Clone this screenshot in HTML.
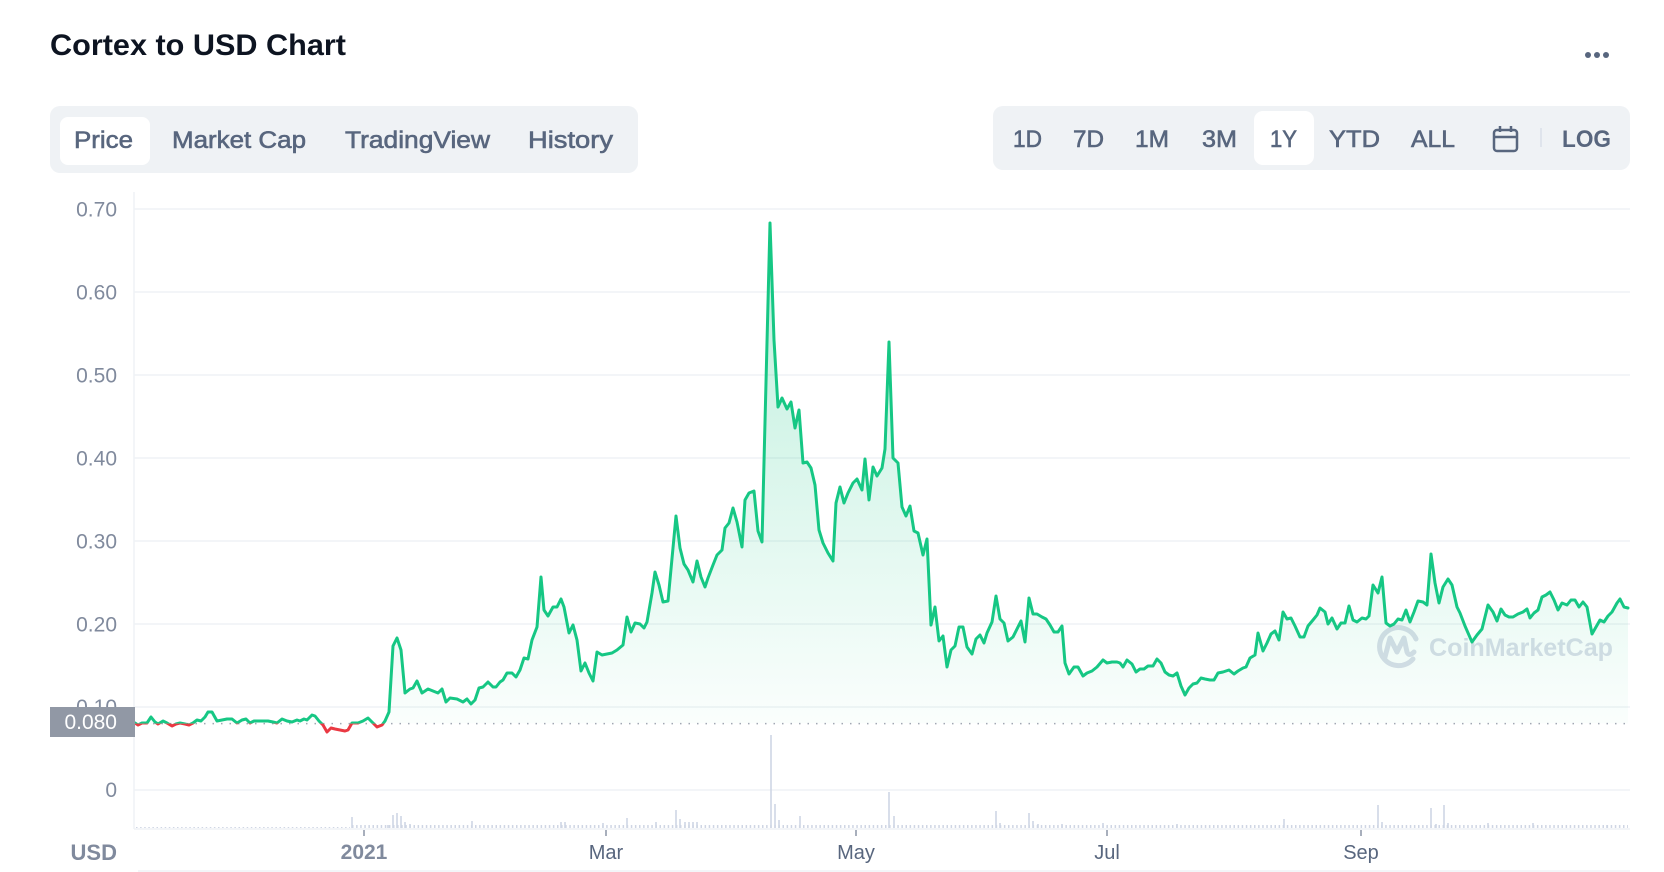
<!DOCTYPE html>
<html><head><meta charset="utf-8"><style>
html,body{margin:0;padding:0;background:#fff;width:1664px;height:872px;overflow:hidden}
svg{display:block;font-family:"Liberation Sans",Arial,sans-serif}
</style></head><body>
<svg width="1664" height="872" viewBox="0 0 1664 872" xmlns="http://www.w3.org/2000/svg">
<defs>
<linearGradient id="gf" x1="0" y1="209" x2="0" y2="724" gradientUnits="userSpaceOnUse">
<stop offset="0" stop-color="#16c784" stop-opacity="0.30"/>
<stop offset="1" stop-color="#16c784" stop-opacity="0.02"/>
</linearGradient>
<clipPath id="up"><rect x="0" y="0" width="1664" height="723.6"/></clipPath>
<clipPath id="dn"><rect x="0" y="723.6" width="1664" height="120"/></clipPath>
</defs>

<!-- Title -->
<text x="50" y="55" font-size="30" font-weight="700" fill="#0d1421" textLength="296" lengthAdjust="spacingAndGlyphs">Cortex to USD Chart</text>
<circle cx="1588" cy="55" r="3" fill="#58667e"/><circle cx="1597" cy="55" r="3" fill="#58667e"/><circle cx="1606" cy="55" r="3" fill="#58667e"/>

<!-- Left tabs -->
<rect x="50" y="106" width="588" height="67" rx="10" fill="#eff2f5"/>
<rect x="60" y="117" width="90" height="48" rx="8" fill="#fff"/>
<g font-size="24" font-weight="400" fill="#58667e" stroke="#58667e" stroke-width="0.6">
<text x="74" y="148" textLength="59" lengthAdjust="spacingAndGlyphs">Price</text>
<text x="172" y="148" textLength="134" lengthAdjust="spacingAndGlyphs">Market Cap</text>
<text x="345" y="148" textLength="145" lengthAdjust="spacingAndGlyphs">TradingView</text>
<text x="528" y="148" textLength="85" lengthAdjust="spacingAndGlyphs">History</text>
</g>

<!-- Right tabs -->
<rect x="993" y="106" width="637" height="64" rx="10" fill="#eff2f5"/>
<rect x="1254" y="111" width="60" height="54" rx="9" fill="#fff"/>
<g font-size="24" font-weight="400" fill="#58667e" stroke="#58667e" stroke-width="0.6">
<text x="1013" y="147" textLength="29" lengthAdjust="spacingAndGlyphs">1D</text>
<text x="1073" y="147" textLength="31" lengthAdjust="spacingAndGlyphs">7D</text>
<text x="1135" y="147" textLength="34" lengthAdjust="spacingAndGlyphs">1M</text>
<text x="1202" y="147" textLength="35" lengthAdjust="spacingAndGlyphs">3M</text>
<text x="1270" y="147" textLength="27" lengthAdjust="spacingAndGlyphs">1Y</text>
<text x="1329" y="147" textLength="51" lengthAdjust="spacingAndGlyphs">YTD</text>
<text x="1411" y="147" textLength="44" lengthAdjust="spacingAndGlyphs">ALL</text>
</g>
<text x="1562" y="147" font-size="24" font-weight="700" fill="#58667e" textLength="49" lengthAdjust="spacingAndGlyphs">LOG</text>
<g fill="none" stroke="#58667e" stroke-width="2.5">
<rect x="1494" y="130" width="23" height="21" rx="3"/>
<line x1="1494" y1="137" x2="1517" y2="137"/>
<line x1="1500" y1="126" x2="1500" y2="132"/>
<line x1="1511" y1="126" x2="1511" y2="132"/>
</g>
<line x1="1541" y1="128" x2="1541" y2="147" stroke="#cfd6e4" stroke-width="1"/>

<!-- Grid -->
<g stroke="#eff2f5" stroke-width="1.5">
<line x1="134" y1="209" x2="1630" y2="209"/>
<line x1="134" y1="292" x2="1630" y2="292"/>
<line x1="134" y1="375" x2="1630" y2="375"/>
<line x1="134" y1="458" x2="1630" y2="458"/>
<line x1="134" y1="541" x2="1630" y2="541"/>
<line x1="134" y1="624" x2="1630" y2="624"/>
<line x1="134" y1="707" x2="1630" y2="707"/>
<line x1="134" y1="790" x2="1630" y2="790"/>
<line x1="134" y1="192" x2="134" y2="829"/>
<line x1="134" y1="829" x2="1630" y2="829"/>
<line x1="138" y1="871" x2="1630" y2="871"/>
</g>

<!-- Y labels -->
<g font-size="21" fill="#808a9d" text-anchor="end">
<text x="117" y="216.5">0.70</text>
<text x="117" y="299.5">0.60</text>
<text x="117" y="382.5">0.50</text>
<text x="117" y="465.5">0.40</text>
<text x="117" y="548.5">0.30</text>
<text x="117" y="631.5">0.20</text>
<text x="117" y="714">0.10</text>
<text x="117" y="797">0</text>
</g>

<!-- Volume bars -->
<line x1="136" y1="827.5" x2="350" y2="827.5" stroke="#cfd6e4" stroke-width="1" stroke-dasharray="1.5 2.6"/>
<line x1="352" y1="826.5" x2="1628" y2="826.5" stroke="#cfd6e4" stroke-width="3" stroke-dasharray="1.5 2.6"/>
<path stroke="#cfd6e4" stroke-width="1.6" fill="none" d="M352 828V817M388 828V825M393 828V815M397 828V813M401 828V816M405 828V822M410 828V824M472 828V821M561 828V822M565 828V822M603 828V823M627 828V818M656 828V822M676 828V810M680 828V819M685 828V822M689 828V822M693 828V822M697 828V822M771 828V735M775 828V804M779 828V820M800 828V816M889 828V792M894 828V816M996 828V811M1000 828V823M1029 828V813M1033 828V821M1038 828V824M1062 828V824M1103 828V823M1177 828V824M1284 828V819M1378 828V805M1382 828V822M1431 828V808M1436 828V824M1444 828V805M1448 828V823M1488 828V823M1533 828V823M1607 828V825"/>

<!-- Watermark -->
<g opacity="0.85">
<path d="M1413 659 A19 19 0 1 1 1416 639" fill="none" stroke="#d3d8e4" stroke-width="5" stroke-linecap="round"/>
<path d="M1385 657 L1390 638 L1397 652 L1404 638 L1407 652 Q1409 657 1414 652" fill="none" stroke="#d3d8e4" stroke-width="5" stroke-linecap="round" stroke-linejoin="round"/>
<text x="1429" y="656" font-size="25" font-weight="700" fill="#d3d8e4" textLength="184" lengthAdjust="spacingAndGlyphs">CoinMarketCap</text>
</g>

<!-- Series -->
<g id="series">
<polygon clip-path="url(#up)" fill="url(#gf)" points="135,723.6 135,723 138,725 142,723 147,723 151,717 155,722 158,724 163,721 167,723 172,726 176,724 180,723 185,724 189,725 193,723 197,720 201,721 205,717 208,712 212,712 217,721 222,720 227,719 232,719 237,723 242,720 246,719 250,723 254,721 258,721 263,721 268,721 273,722 277,723 282,719 287,721 292,722 297,720 300,721 304,719 307,720 312,715 315,716 319,721 323,725 327,732 331,728 335,729 340,730 345,731 348,730 352,723 355,723 358,723 363,721 368,718 373,723 377,727 382,725 385,721 389,712 393,646 397,638 401,650 405,693 410,689 413,688 417,681 422,693 428,689 433,691 438,693 442,689 446,702 450,698 457,699 463,702 467,699 471,704 475,700 479,688 483,687 488,682 493,687 496,687 500,682 503,680 507,673 512,673 516,677 520,670 524,658 528,659 532,640 537,627 541,577 544,610 548,616 553,607 557,607 561,599 564,607 569,633 573,625 577,640 581,671 585,663 589,673 593,681 597,652 602,655 607,654 612,653 617,650 623,645 627,617 631,632 635,623 640,624 644,628 647,622 652,593 655,572 659,585 663,602 668,601 676,516 680,548 684,564 688,570 693,582 697,561 701,577 705,587 708,578 713,565 717,555 722,550 725,528 729,523 733,508 737,522 742,547 745,500 749,493 754,491 758,531 762,542 770,223 774,340 778,407 782,398 787,409 791,402 795,428 799,410 803,463 807,462 811,468 815,485 819,530 823,543 828,553 833,561 836,503 840,487 844,503 848,493 853,483 857,479 862,490 865,459 869,500 873,467 877,476 882,468 885,449 889,342 893,458 898,463 902,507 906,516 910,506 914,531 918,533 923,555 927,539 931,625 935,607 939,641 943,636 947,667 951,650 955,646 959,627 963,627 967,647 972,654 976,639 980,635 984,643 987,633 992,622 996,596 1000,619 1004,623 1008,641 1013,637 1021,621 1025,642 1029,598 1033,614 1037,614 1042,617 1046,619 1050,625 1054,632 1058,632 1062,626 1065,663 1069,674 1074,667 1078,667 1083,676 1087,673 1092,671 1097,667 1103,660 1107,663 1112,662 1117,662 1120,663 1123,667 1127,660 1132,664 1136,672 1140,669 1144,669 1148,666 1153,666 1157,659 1161,663 1165,672 1169,675 1173,676 1177,673 1181,686 1185,695 1189,688 1193,684 1197,683 1201,678 1205,679 1210,680 1214,680 1218,673 1223,672 1229,670 1234,674 1238,671 1243,668 1246,667 1250,658 1255,655 1258,633 1263,651 1267,643 1271,634 1275,631 1279,640 1283,612 1287,619 1291,618 1295,626 1300,637 1304,637 1308,626 1313,620 1317,615 1320,608 1325,612 1328,624 1332,618 1337,629 1341,623 1345,623 1349,606 1353,620 1357,622 1362,618 1366,619 1369,616 1373,585 1378,593 1382,577 1386,623 1390,626 1394,624 1398,619 1402,620 1406,610 1410,622 1414,612 1418,601 1423,602 1427,605 1431,554 1435,583 1439,603 1443,587 1448,579 1452,585 1457,607 1460,613 1465,626 1472,642 1477,635 1482,629 1488,605 1493,612 1497,621 1501,609 1505,615 1509,617 1513,617 1518,614 1523,612 1527,609 1530,618 1534,613 1538,610 1542,597 1546,595 1550,592 1554,600 1558,610 1562,603 1567,605 1571,600 1575,600 1579,607 1583,602 1587,607 1592,634 1596,627 1600,620 1604,622 1608,616 1612,612 1617,603 1620,599 1624,607 1628,608 1628,723.6"/>
</g>

<!-- Baseline dotted -->
<line x1="136" y1="723.6" x2="1630" y2="723.6" stroke="#a1a7b3" stroke-width="1.5" stroke-dasharray="1.5 7"/>

<g fill="none" stroke-width="3" stroke-linejoin="round" stroke-linecap="round">
<polyline clip-path="url(#up)" stroke="#16c784" points="135,723 138,725 142,723 147,723 151,717 155,722 158,724 163,721 167,723 172,726 176,724 180,723 185,724 189,725 193,723 197,720 201,721 205,717 208,712 212,712 217,721 222,720 227,719 232,719 237,723 242,720 246,719 250,723 254,721 258,721 263,721 268,721 273,722 277,723 282,719 287,721 292,722 297,720 300,721 304,719 307,720 312,715 315,716 319,721 323,725 327,732 331,728 335,729 340,730 345,731 348,730 352,723 355,723 358,723 363,721 368,718 373,723 377,727 382,725 385,721 389,712 393,646 397,638 401,650 405,693 410,689 413,688 417,681 422,693 428,689 433,691 438,693 442,689 446,702 450,698 457,699 463,702 467,699 471,704 475,700 479,688 483,687 488,682 493,687 496,687 500,682 503,680 507,673 512,673 516,677 520,670 524,658 528,659 532,640 537,627 541,577 544,610 548,616 553,607 557,607 561,599 564,607 569,633 573,625 577,640 581,671 585,663 589,673 593,681 597,652 602,655 607,654 612,653 617,650 623,645 627,617 631,632 635,623 640,624 644,628 647,622 652,593 655,572 659,585 663,602 668,601 676,516 680,548 684,564 688,570 693,582 697,561 701,577 705,587 708,578 713,565 717,555 722,550 725,528 729,523 733,508 737,522 742,547 745,500 749,493 754,491 758,531 762,542 770,223 774,340 778,407 782,398 787,409 791,402 795,428 799,410 803,463 807,462 811,468 815,485 819,530 823,543 828,553 833,561 836,503 840,487 844,503 848,493 853,483 857,479 862,490 865,459 869,500 873,467 877,476 882,468 885,449 889,342 893,458 898,463 902,507 906,516 910,506 914,531 918,533 923,555 927,539 931,625 935,607 939,641 943,636 947,667 951,650 955,646 959,627 963,627 967,647 972,654 976,639 980,635 984,643 987,633 992,622 996,596 1000,619 1004,623 1008,641 1013,637 1021,621 1025,642 1029,598 1033,614 1037,614 1042,617 1046,619 1050,625 1054,632 1058,632 1062,626 1065,663 1069,674 1074,667 1078,667 1083,676 1087,673 1092,671 1097,667 1103,660 1107,663 1112,662 1117,662 1120,663 1123,667 1127,660 1132,664 1136,672 1140,669 1144,669 1148,666 1153,666 1157,659 1161,663 1165,672 1169,675 1173,676 1177,673 1181,686 1185,695 1189,688 1193,684 1197,683 1201,678 1205,679 1210,680 1214,680 1218,673 1223,672 1229,670 1234,674 1238,671 1243,668 1246,667 1250,658 1255,655 1258,633 1263,651 1267,643 1271,634 1275,631 1279,640 1283,612 1287,619 1291,618 1295,626 1300,637 1304,637 1308,626 1313,620 1317,615 1320,608 1325,612 1328,624 1332,618 1337,629 1341,623 1345,623 1349,606 1353,620 1357,622 1362,618 1366,619 1369,616 1373,585 1378,593 1382,577 1386,623 1390,626 1394,624 1398,619 1402,620 1406,610 1410,622 1414,612 1418,601 1423,602 1427,605 1431,554 1435,583 1439,603 1443,587 1448,579 1452,585 1457,607 1460,613 1465,626 1472,642 1477,635 1482,629 1488,605 1493,612 1497,621 1501,609 1505,615 1509,617 1513,617 1518,614 1523,612 1527,609 1530,618 1534,613 1538,610 1542,597 1546,595 1550,592 1554,600 1558,610 1562,603 1567,605 1571,600 1575,600 1579,607 1583,602 1587,607 1592,634 1596,627 1600,620 1604,622 1608,616 1612,612 1617,603 1620,599 1624,607 1628,608"/>
<polyline clip-path="url(#dn)" stroke="#ea3943" points="135,723 138,725 142,723 147,723 151,717 155,722 158,724 163,721 167,723 172,726 176,724 180,723 185,724 189,725 193,723 197,720 201,721 205,717 208,712 212,712 217,721 222,720 227,719 232,719 237,723 242,720 246,719 250,723 254,721 258,721 263,721 268,721 273,722 277,723 282,719 287,721 292,722 297,720 300,721 304,719 307,720 312,715 315,716 319,721 323,725 327,732 331,728 335,729 340,730 345,731 348,730 352,723 355,723 358,723 363,721 368,718 373,723 377,727 382,725 385,721 389,712 393,646"/>
</g>

<!-- Current price tag -->
<rect x="50" y="707" width="85" height="30" fill="#9198a5"/>
<text x="117" y="729" font-size="21" fill="#fff" text-anchor="end">0.080</text>

<!-- X axis -->
<g stroke="#8a94a6" stroke-width="1.5">
<line x1="364" y1="830" x2="364" y2="836"/>
<line x1="606" y1="830" x2="606" y2="836"/>
<line x1="856" y1="830" x2="856" y2="836"/>
<line x1="1107" y1="830" x2="1107" y2="836"/>
<line x1="1361" y1="830" x2="1361" y2="836"/>
</g>
<text x="117" y="860" font-size="22" font-weight="700" fill="#808a9d" text-anchor="end">USD</text>
<text x="364" y="859" font-size="21" font-weight="700" fill="#808a9d" text-anchor="middle">2021</text>
<g font-size="20" fill="#58667e" text-anchor="middle">
<text x="606" y="859">Mar</text>
<text x="856" y="859">May</text>
<text x="1107" y="859">Jul</text>
<text x="1361" y="859">Sep</text>
</g>
</svg>
</body></html>
